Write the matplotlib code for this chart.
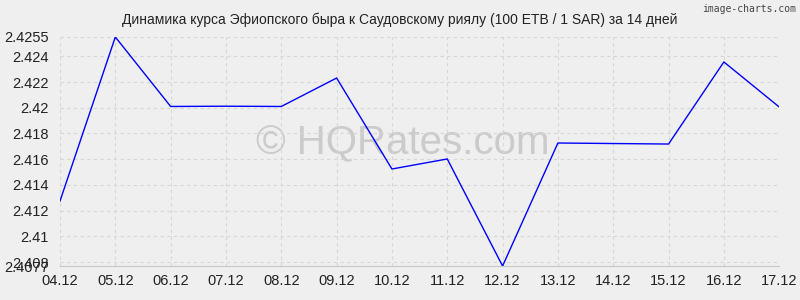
import matplotlib
matplotlib.use("Agg")
import matplotlib.pyplot as plt

dates = ["04.12", "05.12", "06.12", "07.12", "08.12", "09.12", "10.12",
         "11.12", "12.12", "13.12", "14.12", "15.12", "16.12", "17.12"]
rates = [2.41275, 2.4255, 2.42010, 2.42012, 2.42010, 2.42231, 2.41524,
         2.41602, 2.4077, 2.41726, 2.41722, 2.41718, 2.42356, 2.42006]
y_ticks = [2.4077, 2.408, 2.41, 2.412, 2.414, 2.416, 2.418, 2.42, 2.422, 2.424, 2.4255]
y_labels = ["2.4077", "2.408", "2.41", "2.412", "2.414", "2.416", "2.418",
            "2.42", "2.422", "2.424", "2.4255"]

plt.rcParams["font.family"] = ["Liberation Sans", "DejaVu Sans"]
bg = "#efefef"

fig = plt.figure(figsize=(8, 3), dpi=100, facecolor=bg)
ax = fig.add_axes([0.075, 0.1133, 0.899, 0.7634], facecolor=bg)

x = list(range(len(dates)))

# watermark under the line
ax.text(0.476, 0.535, "© HQRates.com", transform=ax.transAxes, ha="center",
        va="center", fontsize=29, color="#cbcbcb", zorder=1)

ax.plot(x, rates, color="#0000ff", linewidth=1, zorder=3)

ax.set_xlim(0, len(dates) - 1)
ax.set_ylim(y_ticks[0], y_ticks[-1])
ax.set_xticks(x)
ax.set_xticklabels(dates)
ax.set_yticks(y_ticks)
ax.set_yticklabels(y_labels)
ax.tick_params(length=0, labelsize=10.5, colors="#222222", pad=6)
ax.tick_params(axis="y", pad=8)

ax.grid(True, color="#d6d6d6", linestyle=(0, (3, 3)), linewidth=0.8, zorder=0)
for s in ["top", "right", "left"]:
    ax.spines[s].set_visible(False)
ax.spines["bottom"].set_color("#c8c8c8")
ax.spines["bottom"].set_linewidth(0.8)

fig.text(0.5, 0.935, "Динамика курса Эфиопского быра к Саудовскому риялу (100 ETB / 1 SAR) за 14 дней",
         ha="center", va="center", fontsize=10, color="#222222")
fig.text(0.995, 0.985, "image-charts.com", ha="right", va="top", fontsize=7,
         color="#444444", family=["DejaVu Sans Mono", "DejaVu Sans"])

fig.savefig("out.png", dpi=100, facecolor=bg)
